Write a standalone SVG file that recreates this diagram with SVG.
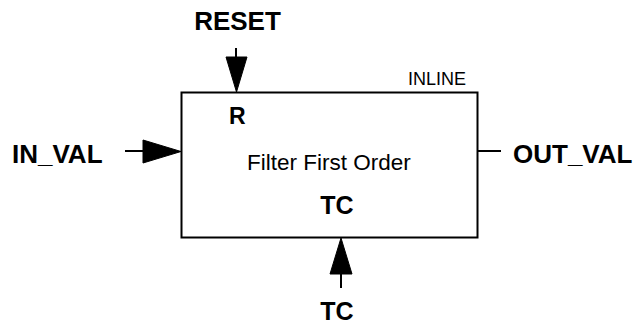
<svg xmlns="http://www.w3.org/2000/svg" width="641" height="333" viewBox="0 0 641 333">
<style>
.lbl{font-family:"Liberation Sans",Arial,sans-serif;font-weight:bold;font-size:26px;fill:#000}
.reg{font-family:"Liberation Sans",Arial,sans-serif;font-size:22.5px;fill:#000}
.ln{stroke:#000;stroke-width:2;fill:none}
.ah{fill:#000;stroke:#000;stroke-width:1}
</style>
<rect width="641" height="333" fill="#fff"/>
<g id="block">
<rect x="181.5" y="92.5" width="296" height="145" class="ln"/>
<text x="408" y="85" class="reg" style="font-size:18px">INLINE</text>
<text x="229" y="124" class="lbl" style="font-size:23px">R</text>
<text x="329" y="170" class="reg" text-anchor="middle">Filter First Order</text>
<text x="337" y="214" class="lbl" style="font-size:25px" text-anchor="middle">TC</text>
</g>
<g id="reset"><text x="237.5" y="30" class="lbl" text-anchor="middle">RESET</text></g>
<g id="in_val"><text x="12" y="163" class="lbl">IN_VAL</text></g>
<g id="out_val"><text x="513" y="163" class="lbl">OUT_VAL</text></g>
<g id="tc"><text x="337" y="320" class="lbl" style="font-size:25px" text-anchor="middle">TC</text></g>
<g id="connectors">
<line x1="236" y1="48" x2="236" y2="60" class="ln"/>
<polygon points="226,57 247,57 236.5,92" class="ah"/>
<line x1="341" y1="270" x2="341" y2="288" class="ln"/>
<polygon points="330,274 352,274 341,238" class="ah"/>
<line x1="125" y1="151" x2="146" y2="151" class="ln"/>
<polygon points="143,140 143,163 181,151.5" class="ah"/>
<line x1="478" y1="151" x2="501" y2="151" class="ln"/>
</g>
</svg>
